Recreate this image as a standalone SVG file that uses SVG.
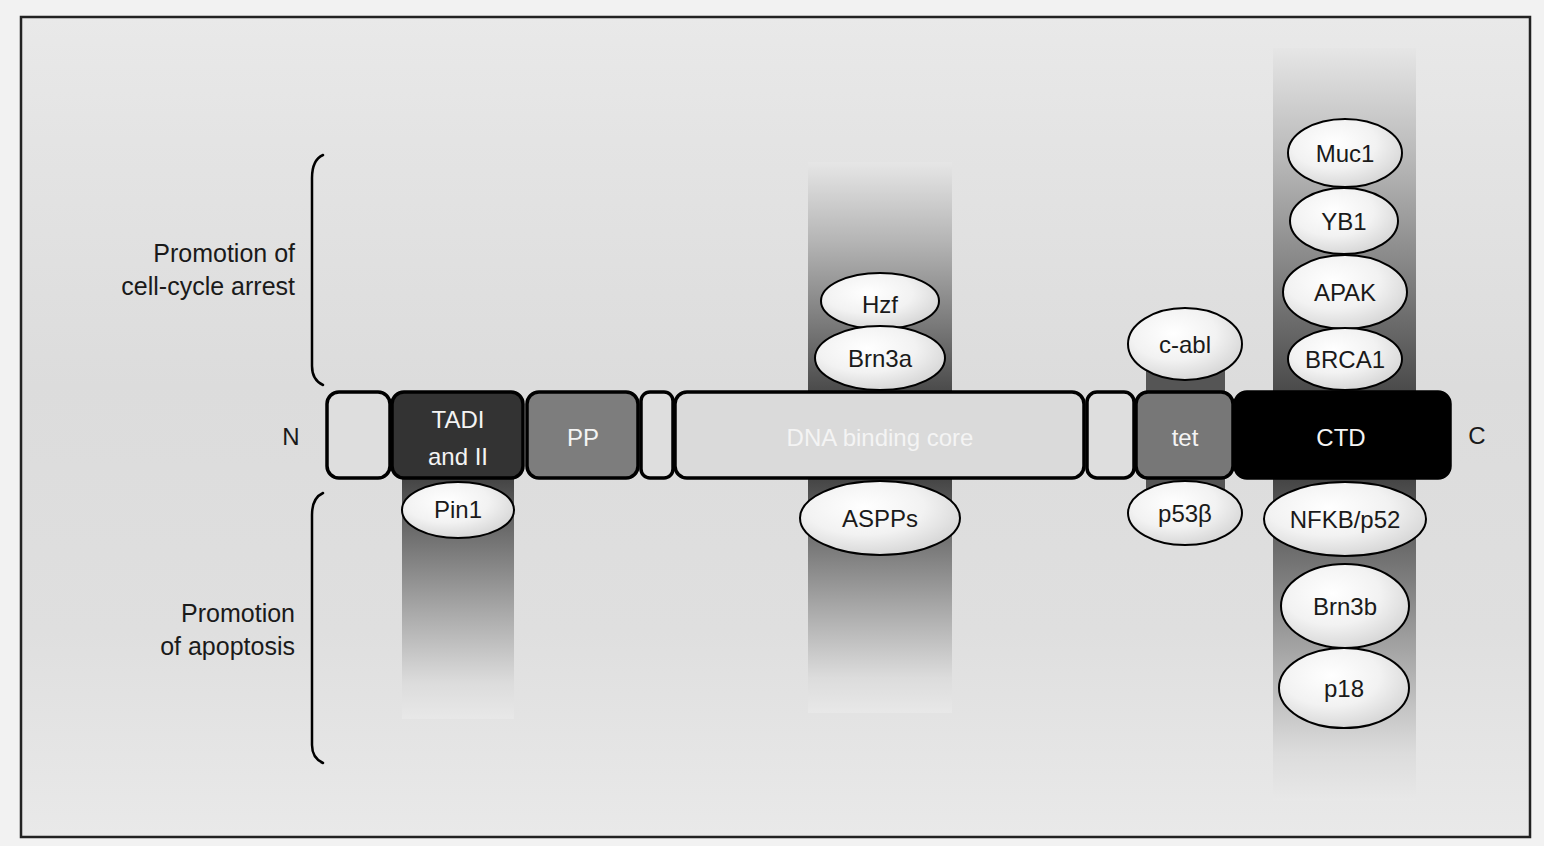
<svg xmlns="http://www.w3.org/2000/svg" width="1544" height="846" viewBox="0 0 1544 846">
<defs>
  <linearGradient id="bg" x1="0" y1="0" x2="0" y2="1">
    <stop offset="0" stop-color="#e9e9e9"/>
    <stop offset="0.15" stop-color="#e4e4e4"/>
    <stop offset="0.45" stop-color="#dcdcdc"/>
    <stop offset="0.75" stop-color="#dfdfdf"/>
    <stop offset="1" stop-color="#e9e9e9"/>
  </linearGradient>
  <linearGradient id="colUp" x1="0" y1="0" x2="0" y2="1">
    <stop offset="0" stop-color="#e6e6e6"/>
    <stop offset="0.35" stop-color="#b4b4b4"/>
    <stop offset="1" stop-color="#4a4a4a"/>
  </linearGradient>
  <linearGradient id="colDown" x1="0" y1="0" x2="0" y2="1">
    <stop offset="0" stop-color="#454545"/>
    <stop offset="0.55" stop-color="#a8a8a8"/>
    <stop offset="0.85" stop-color="#dcdcdc"/>
    <stop offset="1" stop-color="#e8e8e8"/>
  </linearGradient>
  <radialGradient id="ell" cx="0.4" cy="0.35" r="0.75">
    <stop offset="0" stop-color="#ffffff"/>
    <stop offset="0.5" stop-color="#f2f2f2"/>
    <stop offset="1" stop-color="#cfcfcf"/>
  </radialGradient>
  <style>
    .box{stroke:#000;stroke-width:3.5}
    .el{fill:url(#ell);stroke:#000;stroke-width:2}
    .t{font-family:"Liberation Sans",Arial,sans-serif;font-size:24px;fill:#1a1a1a;text-anchor:middle}
    .w{font-family:"Liberation Sans",Arial,sans-serif;font-size:24px;fill:#f4f4f4;text-anchor:middle}
    .lbl{font-family:"Liberation Sans",Arial,sans-serif;font-size:25px;fill:#1a1a1a;text-anchor:end}
    .br{fill:none;stroke:#000;stroke-width:2.5;stroke-linecap:round}
  </style>
</defs>
<rect x="0" y="0" width="1544" height="846" fill="#f2f2f2"/>
<rect x="21" y="17" width="1509" height="820" fill="url(#bg)" stroke="#222" stroke-width="2.5"/>

<g id="columns">
  <rect x="402" y="479" width="112" height="240" fill="url(#colDown)"/>
  <rect x="808" y="162" width="144" height="230" fill="url(#colUp)"/>
  <rect x="808" y="479" width="144" height="234" fill="url(#colDown)"/>
  <rect x="1146" y="360" width="79" height="32" fill="#555"/>
  <rect x="1146" y="479" width="79" height="24" fill="#555"/>
  <rect x="1273" y="48" width="143" height="344" fill="url(#colUp)"/>
  <rect x="1273" y="479" width="143" height="322" fill="url(#colDown)"/>
</g>

<g id="brackets">
  <path class="br" d="M323,155 Q312,160 312,178 L312,366 Q312,380 323,385"/>
  <path class="br" d="M323,493 Q312,498 312,515 L312,745 Q312,758 323,763"/>
</g>

<g id="labels">
  <text class="lbl" x="295" y="262">Promotion of</text>
  <text class="lbl" x="295" y="295">cell-cycle arrest</text>
  <text class="lbl" x="295" y="622">Promotion</text>
  <text class="lbl" x="295" y="655">of apoptosis</text>
  <text class="t" x="291" y="445">N</text>
  <text class="t" x="1477" y="444">C</text>
</g>

<g id="bar">
  <g id="nterm"><rect class="box" x="327" y="392" width="63" height="86" rx="12" fill="#dedede"/></g>
  <g id="tad"><rect class="box" x="392" y="392" width="131" height="86" rx="12" fill="#333"/>
    <text class="w" x="458" y="428">TADI</text><text class="w" x="458" y="465">and II</text></g>
  <g id="pp"><rect class="box" x="527" y="392" width="111" height="86" rx="12" fill="#7d7d7d"/>
    <text class="w" x="583" y="446">PP</text></g>
  <g id="link1"><rect class="box" x="641" y="392" width="32" height="86" rx="9" fill="#dedede"/></g>
  <g id="dbd"><rect class="box" x="675" y="392" width="409" height="86" rx="12" fill="#dadada"/>
    <text class="w" x="880" y="446">DNA binding core</text></g>
  <g id="link2"><rect class="box" x="1087" y="392" width="47" height="86" rx="10" fill="#dedede"/></g>
  <g id="tet"><rect class="box" x="1136" y="392" width="97" height="86" rx="12" fill="#777"/>
    <text class="w" x="1185" y="446">tet</text></g>
  <g id="ctd"><rect class="box" x="1235" y="392" width="215" height="86" rx="12" fill="#000"/>
    <text class="w" x="1341" y="446">CTD</text></g>
</g>

<g id="pin1"><ellipse class="el" cx="458" cy="510" rx="56" ry="28"/><text class="t" x="458" y="518">Pin1</text></g>
<g id="hzf"><ellipse class="el" cx="880" cy="301" rx="59" ry="28"/><text class="t" x="880" y="313">Hzf</text></g>
<g id="brn3a"><ellipse class="el" cx="880" cy="358" rx="65" ry="32"/><text class="t" x="880" y="367">Brn3a</text></g>
<g id="aspps"><ellipse class="el" cx="880" cy="518" rx="80" ry="37"/><text class="t" x="880" y="527">ASPPs</text></g>
<g id="cabl"><ellipse class="el" cx="1185" cy="344" rx="57" ry="36"/><text class="t" x="1185" y="353">c-abl</text></g>
<g id="p53b"><ellipse class="el" cx="1185" cy="513" rx="57" ry="32"/><text class="t" x="1185" y="522">p53β</text></g>
<g id="muc1"><ellipse class="el" cx="1345" cy="153" rx="57" ry="34"/><text class="t" x="1345" y="162">Muc1</text></g>
<g id="yb1"><ellipse class="el" cx="1344" cy="221" rx="54" ry="33"/><text class="t" x="1344" y="230">YB1</text></g>
<g id="apak"><ellipse class="el" cx="1345" cy="292" rx="62" ry="37"/><text class="t" x="1345" y="301">APAK</text></g>
<g id="brca1"><ellipse class="el" cx="1345" cy="359" rx="57" ry="31"/><text class="t" x="1345" y="368">BRCA1</text></g>
<g id="nfkb"><ellipse class="el" cx="1345" cy="519" rx="81" ry="37"/><text class="t" x="1345" y="528">NFKB/p52</text></g>
<g id="brn3b"><ellipse class="el" cx="1345" cy="606" rx="64" ry="42"/><text class="t" x="1345" y="615">Brn3b</text></g>
<g id="p18"><ellipse class="el" cx="1344" cy="688" rx="65" ry="40"/><text class="t" x="1344" y="697">p18</text></g>
<g id="connectors"></g>
</svg>
